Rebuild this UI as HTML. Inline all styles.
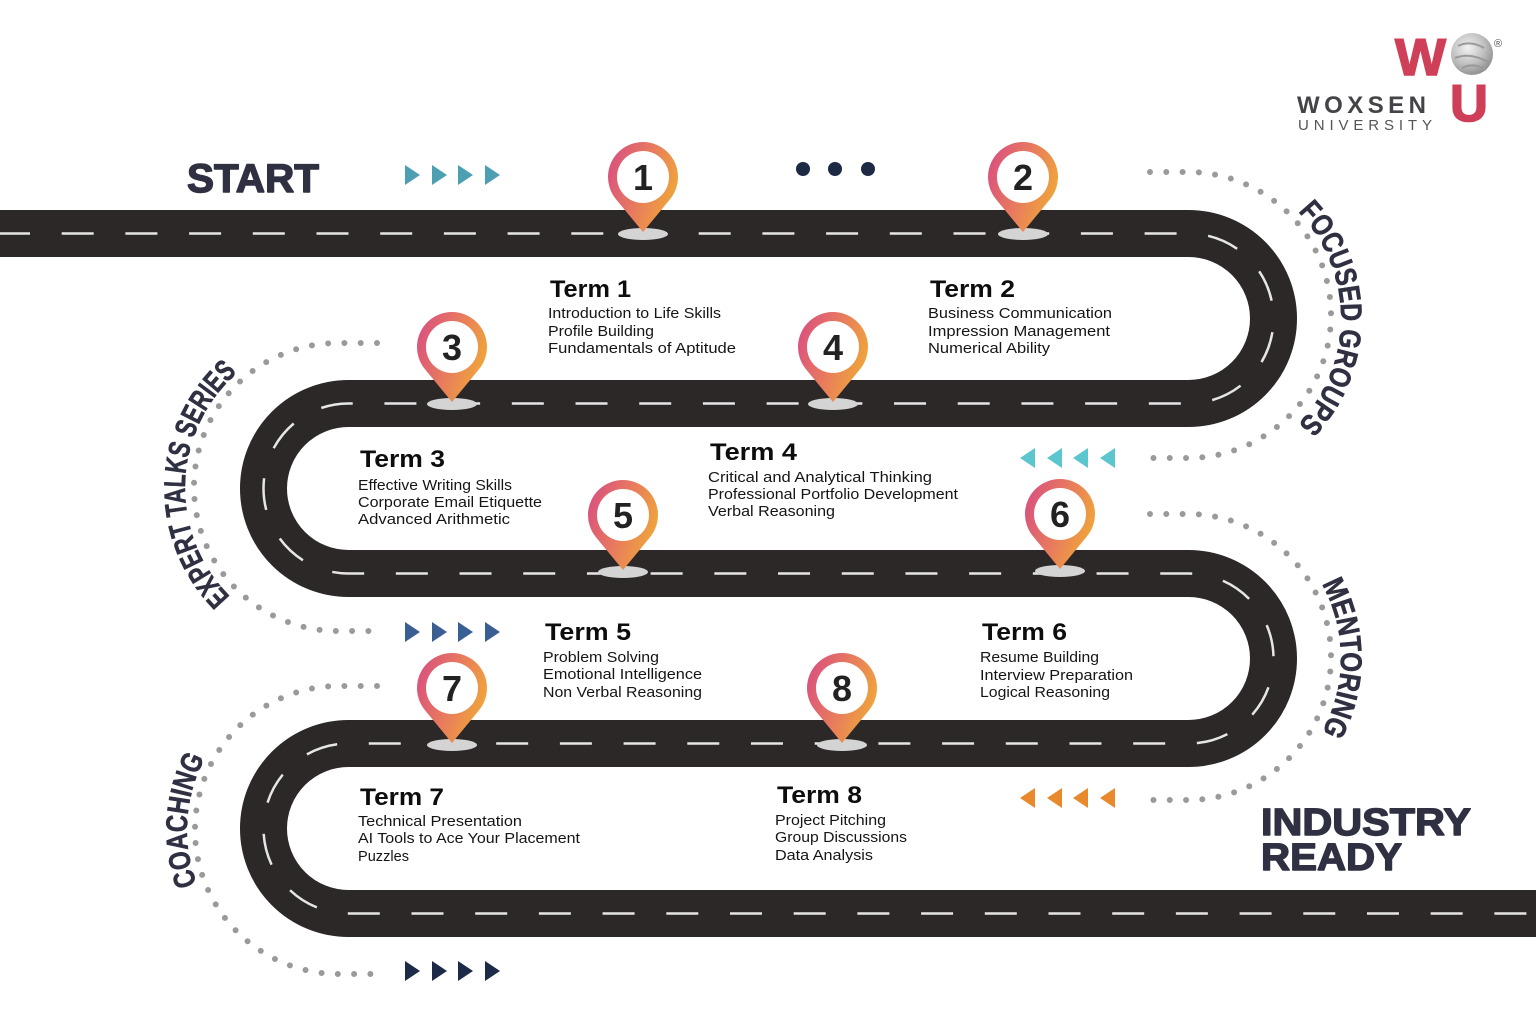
<!DOCTYPE html>
<html>
<head>
<meta charset="utf-8">
<style>
  html,body{margin:0;padding:0;background:#fff;}
  svg{display:block;}
  .hd{font-family:"Liberation Sans",sans-serif;font-weight:bold;font-size:24px;fill:#0d0d0d;}
  .bd{font-family:"Liberation Sans",sans-serif;font-size:15px;fill:#151515;}
  .big{font-family:"Liberation Sans",sans-serif;font-weight:bold;fill:#2f3042;stroke:#2f3042;stroke-width:1.4;stroke-linejoin:round;}
  .arc{font-family:"Liberation Sans",sans-serif;font-weight:bold;font-size:30px;fill:#2f3042;stroke:#2f3042;stroke-width:0.6;}
  .num{font-family:"Liberation Sans",sans-serif;font-weight:bold;font-size:36px;fill:#222;text-anchor:middle;}
  .dots{fill:none;stroke:#9a9a9a;stroke-width:6;stroke-linecap:round;stroke-dasharray:0 16.3;}
</style>
</head>
<body>
<svg width="1536" height="1024" viewBox="0 0 1536 1024" xmlns="http://www.w3.org/2000/svg">
  <defs>
    <linearGradient id="pg" x1="0" y1="0.2" x2="1" y2="0.6">
      <stop offset="0" stop-color="#d9507f"/>
      <stop offset="0.5" stop-color="#e87a5e"/>
      <stop offset="1" stop-color="#f0a838"/>
    </linearGradient>
    <radialGradient id="sph" cx="0.4" cy="0.35" r="0.7">
      <stop offset="0" stop-color="#f2f2f2"/>
      <stop offset="0.6" stop-color="#bdbdbd"/>
      <stop offset="1" stop-color="#8a8a8a"/>
    </radialGradient>
    <g id="pin">
      <ellipse cx="0" cy="57" rx="25" ry="6" fill="#d4d4d4"/>
      <path d="M0,55 L27,22.3 A35,35 0 1 0 -27,22.3 Z" fill="url(#pg)"/>
      <circle cx="0" cy="0" r="26" fill="#fff"/>
    </g>
    <path id="pF" d="M1188,165 A153,153 0 0 1 1188,471"/>
    <path id="pM" d="M1188,505 A153,153 0 0 1 1188,811"/>
    <path id="pE" d="M338,641 A153,153 0 0 1 338,335"/>
    <path id="pC" d="M339,982 A152,152 0 0 1 339,678"/>
  </defs>

  <rect width="1536" height="1024" fill="#fff"/>

  <!-- Road -->
  <path d="M-10,233.5 H1188.5 A85,85 0 0 1 1188.5,403.5 H348.5 A85,85 0 0 0 348.5,573.5 H1188.5 A85,85 0 0 1 1188.5,743.5 H348.5 A85,85 0 0 0 348.5,913.5 H1546"
        fill="none" stroke="#2c2828" stroke-width="47"/>
  <path d="M-10,233.5 H1188.5 A85,85 0 0 1 1188.5,403.5 H348.5 A85,85 0 0 0 348.5,573.5 H1188.5 A85,85 0 0 1 1188.5,743.5 H348.5 A85,85 0 0 0 348.5,913.5 H1546"
        fill="none" stroke="#e6e6e6" stroke-width="2.5" stroke-dasharray="32 31.7" stroke-dashoffset="55.7"/>

  <!-- Dotted arcs -->
  <path class="dots" d="M1150,172 H1188 A143,143 0 0 1 1188,458 H1150"/>
  <path class="dots" d="M1150,514 H1188 A143,143 0 0 1 1188,800 H1150"/>
  <path class="dots" d="M377,343 H338 A144,144 0 0 0 338,631 H377"/>
  <path class="dots" d="M377,686 H339 A144,144 0 0 0 339,974 H377"/>

  <!-- Arc labels -->
  <text class="arc"><textPath href="#pF" startOffset="50%" text-anchor="middle" textLength="235" lengthAdjust="spacingAndGlyphs">FOCUSED GROUPS</textPath></text>
  <text class="arc"><textPath href="#pM" startOffset="50%" text-anchor="middle" textLength="155" lengthAdjust="spacingAndGlyphs">MENTORING</textPath></text>
  <text class="arc"><textPath href="#pE" startOffset="51%" text-anchor="middle" textLength="251" lengthAdjust="spacingAndGlyphs">EXPERT TALKS SERIES</textPath></text>
  <text class="arc"><textPath href="#pC" startOffset="52%" text-anchor="middle" textLength="130" lengthAdjust="spacingAndGlyphs">COACHING</textPath></text>

  <!-- START / INDUSTRY READY -->
  <text class="big" x="187" y="192" font-size="40" textLength="132" lengthAdjust="spacingAndGlyphs">START</text>
  <text class="big" x="1261" y="835" font-size="38" textLength="210" lengthAdjust="spacingAndGlyphs">INDUSTRY</text>
  <text class="big" x="1261" y="870" font-size="38" textLength="141" lengthAdjust="spacingAndGlyphs">READY</text>

  <!-- Arrow rows -->
  <g fill="#4d9fb2">
    <polygon points="405,165 420,175 405,185"/><polygon points="432,165 447,175 432,185"/>
    <polygon points="458,165 473,175 458,185"/><polygon points="485,165 500,175 485,185"/>
  </g>
  <g fill="#5cc6cf">
    <polygon points="1020,458 1035,448 1035,468"/><polygon points="1047,458 1062,448 1062,468"/>
    <polygon points="1073,458 1088,448 1088,468"/><polygon points="1100,458 1115,448 1115,468"/>
  </g>
  <g fill="#3a5f95">
    <polygon points="405,622 420,632 405,642"/><polygon points="432,622 447,632 432,642"/>
    <polygon points="458,622 473,632 458,642"/><polygon points="485,622 500,632 485,642"/>
  </g>
  <g fill="#e88a2c">
    <polygon points="1020,798 1035,788 1035,808"/><polygon points="1047,798 1062,788 1062,808"/>
    <polygon points="1073,798 1088,788 1088,808"/><polygon points="1100,798 1115,788 1115,808"/>
  </g>
  <g fill="#1d2a48">
    <polygon points="405,961 420,971 405,981"/><polygon points="432,961 447,971 432,981"/>
    <polygon points="458,961 473,971 458,981"/><polygon points="485,961 500,971 485,981"/>
  </g>
  <g fill="#1e2a44">
    <circle cx="803" cy="169" r="7"/><circle cx="835" cy="169" r="7"/><circle cx="868" cy="169" r="7"/>
  </g>

  <!-- Pins -->
  <use href="#pin" x="643" y="177"/><text class="num" x="643" y="190">1</text>
  <use href="#pin" x="1023" y="177"/><text class="num" x="1023" y="190">2</text>
  <use href="#pin" x="452" y="347"/><text class="num" x="452" y="360">3</text>
  <use href="#pin" x="833" y="347"/><text class="num" x="833" y="360">4</text>
  <use href="#pin" x="623" y="515"/><text class="num" x="623" y="528">5</text>
  <use href="#pin" x="1060" y="514"/><text class="num" x="1060" y="527">6</text>
  <use href="#pin" x="452" y="688"/><text class="num" x="452" y="701">7</text>
  <use href="#pin" x="842" y="688"/><text class="num" x="842" y="701">8</text>

  <!-- Term 1 -->
  <text class="hd" x="550" y="297" textLength="81" lengthAdjust="spacingAndGlyphs">Term 1</text>
  <text class="bd" x="548" y="318" textLength="173" lengthAdjust="spacingAndGlyphs">Introduction to Life Skills</text>
  <text class="bd" x="548" y="336" textLength="106" lengthAdjust="spacingAndGlyphs">Profile Building</text>
  <text class="bd" x="548" y="353" textLength="188" lengthAdjust="spacingAndGlyphs">Fundamentals of Aptitude</text>

  <!-- Term 2 -->
  <text class="hd" x="930" y="297" textLength="85" lengthAdjust="spacingAndGlyphs">Term 2</text>
  <text class="bd" x="928" y="318" textLength="184" lengthAdjust="spacingAndGlyphs">Business Communication</text>
  <text class="bd" x="928" y="336" textLength="182" lengthAdjust="spacingAndGlyphs">Impression Management</text>
  <text class="bd" x="928" y="353" textLength="122" lengthAdjust="spacingAndGlyphs">Numerical Ability</text>

  <!-- Term 3 -->
  <text class="hd" x="360" y="467" textLength="85" lengthAdjust="spacingAndGlyphs">Term 3</text>
  <text class="bd" x="358" y="490" textLength="154" lengthAdjust="spacingAndGlyphs">Effective Writing Skills</text>
  <text class="bd" x="358" y="507" textLength="184" lengthAdjust="spacingAndGlyphs">Corporate Email Etiquette</text>
  <text class="bd" x="358" y="524" textLength="152" lengthAdjust="spacingAndGlyphs">Advanced Arithmetic</text>

  <!-- Term 4 -->
  <text class="hd" x="710" y="460" textLength="87" lengthAdjust="spacingAndGlyphs">Term 4</text>
  <text class="bd" x="708" y="482" textLength="224" lengthAdjust="spacingAndGlyphs">Critical and Analytical Thinking</text>
  <text class="bd" x="708" y="499" textLength="250" lengthAdjust="spacingAndGlyphs">Professional Portfolio Development</text>
  <text class="bd" x="708" y="516" textLength="127" lengthAdjust="spacingAndGlyphs">Verbal Reasoning</text>

  <!-- Term 5 -->
  <text class="hd" x="545" y="640" textLength="86" lengthAdjust="spacingAndGlyphs">Term 5</text>
  <text class="bd" x="543" y="662" textLength="116" lengthAdjust="spacingAndGlyphs">Problem Solving</text>
  <text class="bd" x="543" y="679" textLength="159" lengthAdjust="spacingAndGlyphs">Emotional Intelligence</text>
  <text class="bd" x="543" y="697" textLength="159" lengthAdjust="spacingAndGlyphs">Non Verbal Reasoning</text>

  <!-- Term 6 -->
  <text class="hd" x="982" y="640" textLength="85" lengthAdjust="spacingAndGlyphs">Term 6</text>
  <text class="bd" x="980" y="662" textLength="119" lengthAdjust="spacingAndGlyphs">Resume Building</text>
  <text class="bd" x="980" y="680" textLength="153" lengthAdjust="spacingAndGlyphs">Interview Preparation</text>
  <text class="bd" x="980" y="697" textLength="130" lengthAdjust="spacingAndGlyphs">Logical Reasoning</text>

  <!-- Term 7 -->
  <text class="hd" x="360" y="805" textLength="84" lengthAdjust="spacingAndGlyphs">Term 7</text>
  <text class="bd" x="358" y="826" textLength="164" lengthAdjust="spacingAndGlyphs">Technical Presentation</text>
  <text class="bd" x="358" y="843" textLength="222" lengthAdjust="spacingAndGlyphs">AI Tools to Ace Your Placement</text>
  <text class="bd" x="358" y="861" textLength="51" lengthAdjust="spacingAndGlyphs">Puzzles</text>

  <!-- Term 8 -->
  <text class="hd" x="777" y="803" textLength="85" lengthAdjust="spacingAndGlyphs">Term 8</text>
  <text class="bd" x="775" y="825" textLength="111" lengthAdjust="spacingAndGlyphs">Project Pitching</text>
  <text class="bd" x="775" y="842" textLength="132" lengthAdjust="spacingAndGlyphs">Group Discussions</text>
  <text class="bd" x="775" y="860" textLength="98" lengthAdjust="spacingAndGlyphs">Data Analysis</text>

  <!-- Logo -->
  <text x="1395" y="75" font-family="Liberation Sans, sans-serif" font-weight="bold" font-size="52" fill="#cf3f57" stroke="#cf3f57" stroke-width="1.5" textLength="51" lengthAdjust="spacingAndGlyphs">W</text>
  <circle cx="1472" cy="54" r="21" fill="url(#sph)"/>
  <path d="M1458,46 Q1470,40 1484,48 M1455,58 Q1470,52 1488,62 M1462,68 Q1474,62 1486,70" stroke="#9a9a9a" stroke-width="2" fill="none"/>
  <text x="1494" y="47" font-family="Liberation Sans, sans-serif" font-size="11" fill="#555">®</text>
  <text x="1450" y="121" font-family="Liberation Sans, sans-serif" font-weight="bold" font-size="52" fill="#cf3f57" stroke="#cf3f57" stroke-width="1.5" textLength="38" lengthAdjust="spacingAndGlyphs">U</text>
  <text x="1297" y="113" font-family="Liberation Sans, sans-serif" font-weight="bold" font-size="24" fill="#444448" textLength="129" lengthAdjust="spacing">WOXSEN</text>
  <text x="1298" y="130" font-family="Liberation Sans, sans-serif" font-size="15" fill="#555" textLength="134" lengthAdjust="spacing">UNIVERSITY</text>
</svg>
</body>
</html>
